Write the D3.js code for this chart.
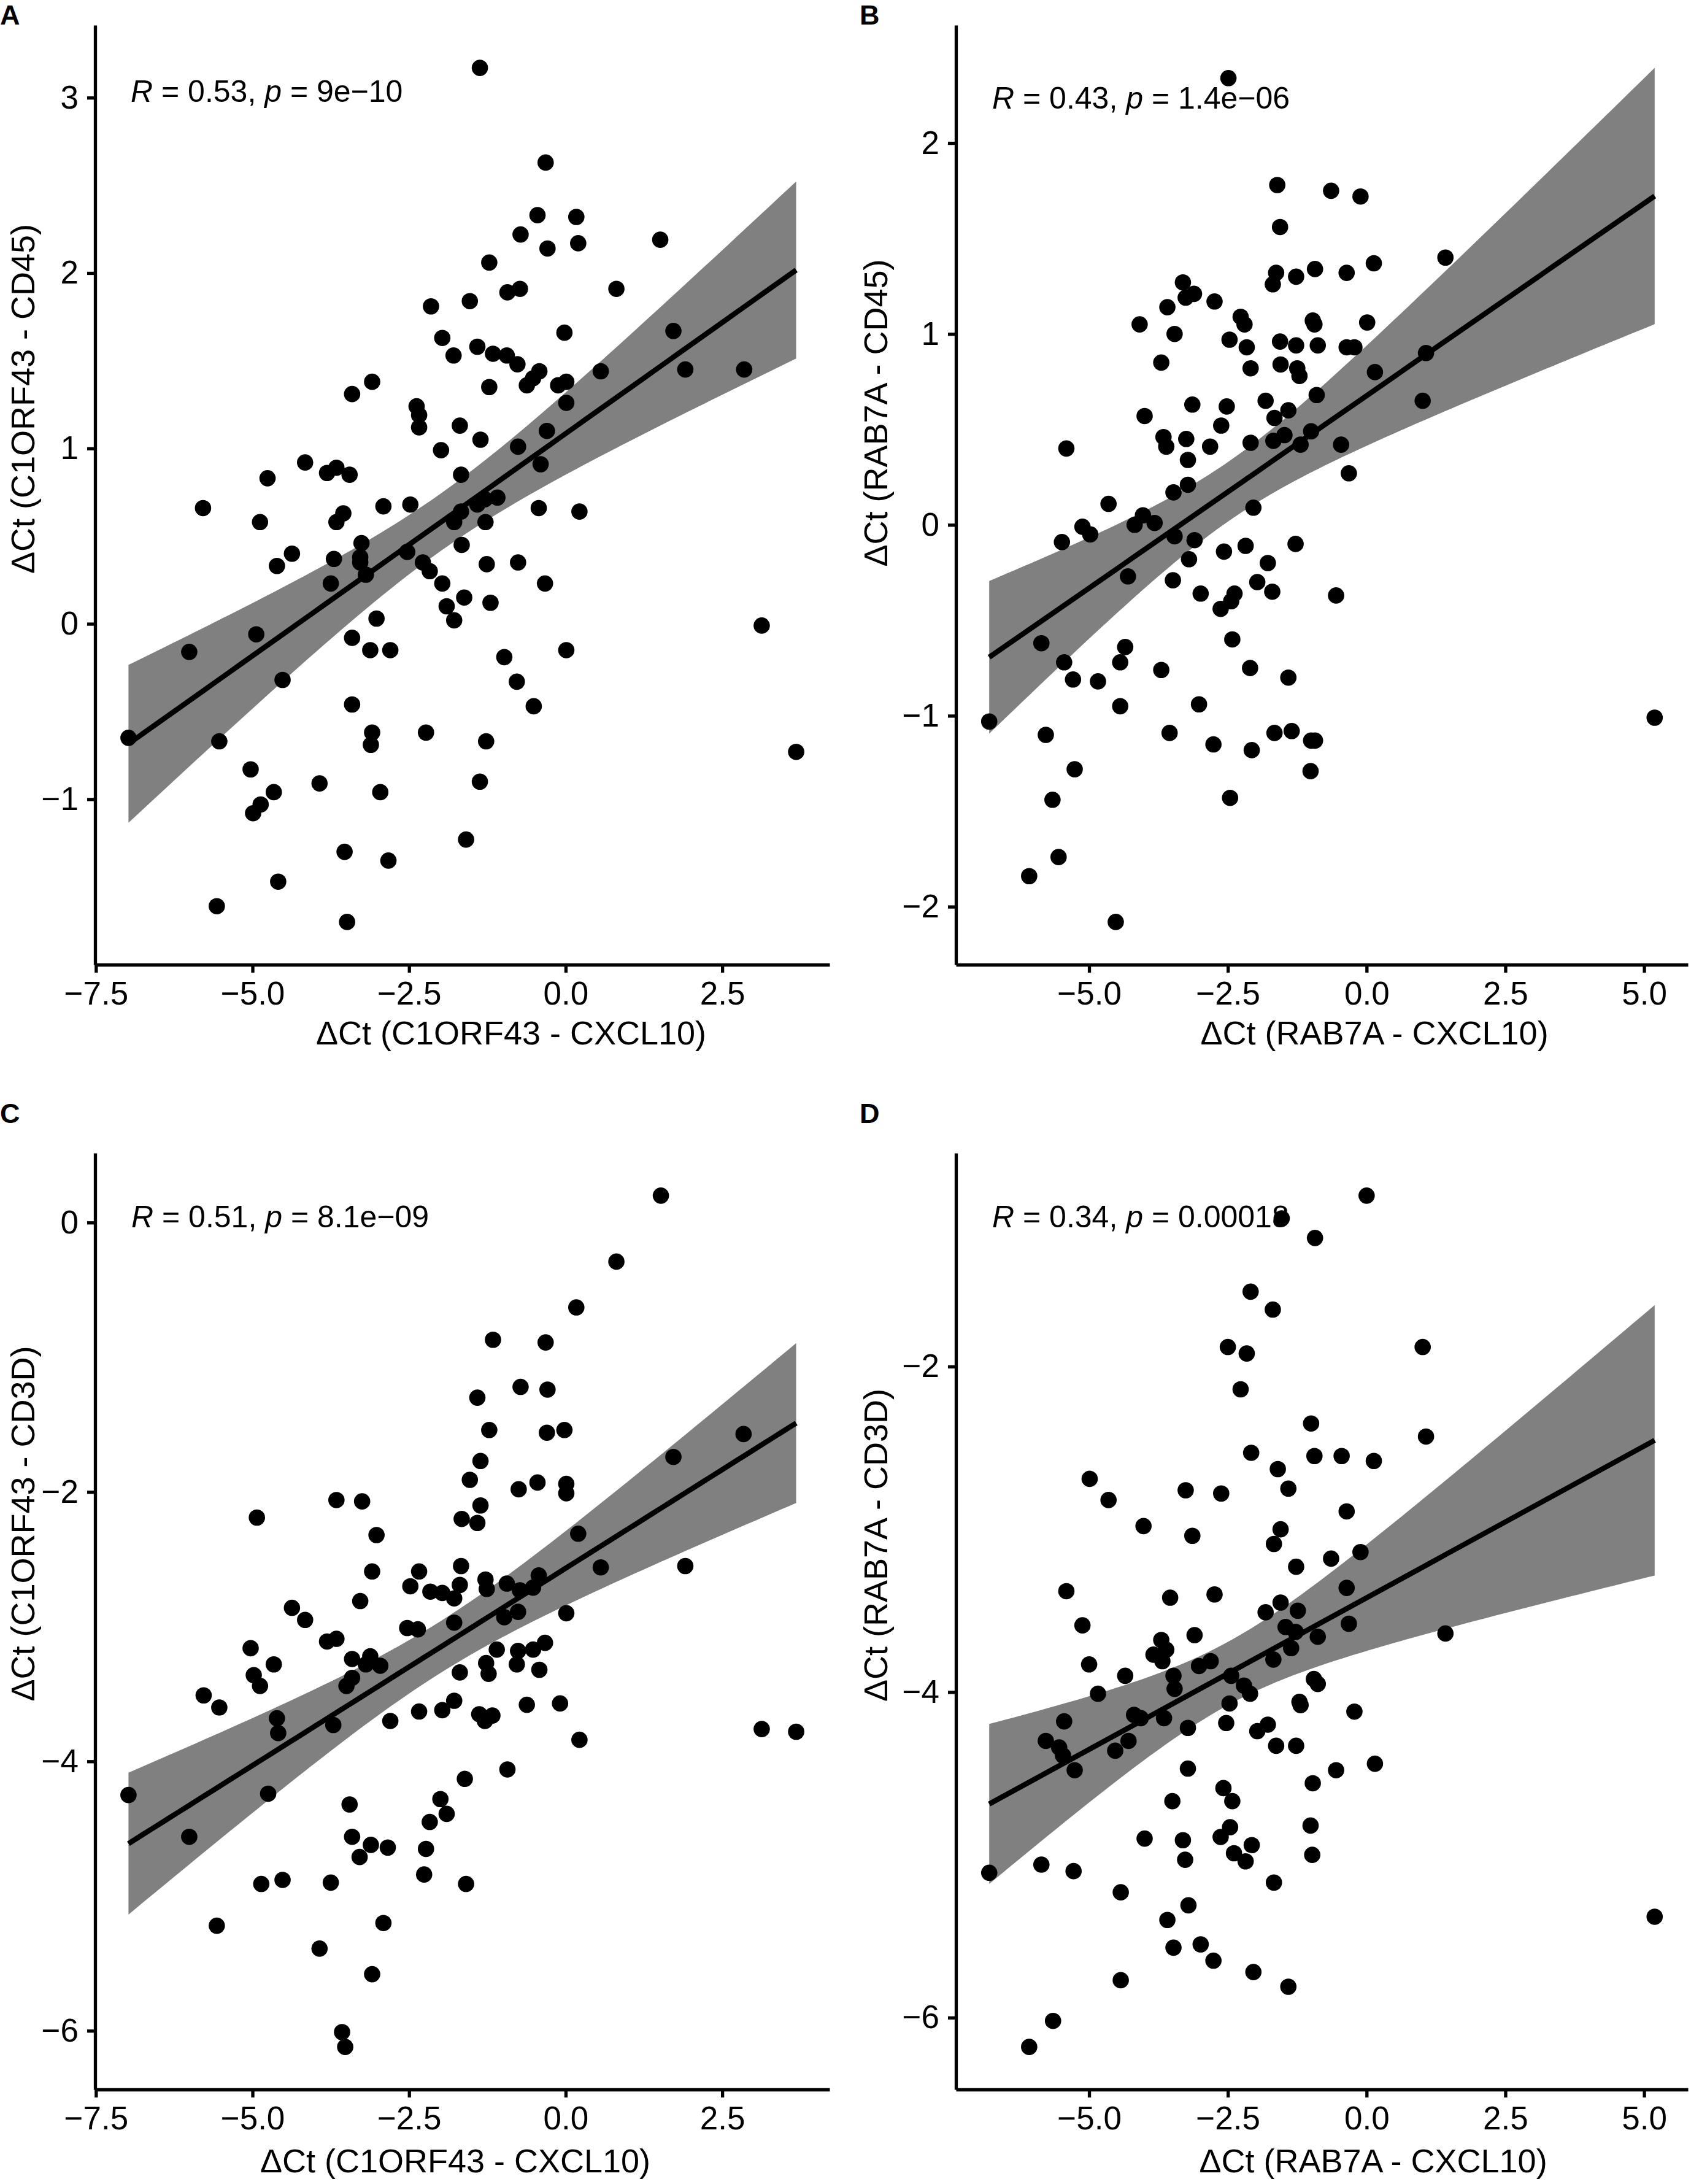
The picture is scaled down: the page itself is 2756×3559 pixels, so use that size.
<!DOCTYPE html>
<html><head><meta charset="utf-8">
<script src="https://cdn.jsdelivr.net/npm/d3@7"></script>
<style>html,body{margin:0;padding:0;background:#fff}svg{display:block}</style>
</head><body>
<svg id="chart" width="2756" height="3559"></svg>
<script>
// ---------- DATA ----------
const panelA_x = [-1.37,-0.32,-0.45,0.17,-0.72,-0.29,0.20,1.51,-1.22,-0.93,-0.73,0.81,-2.15,-1.53,-0.02,-1.97,1.72,-1.41,-1.16,-1.79,-0.94,-0.77,1.91,2.85,0.56,-0.42,-0.52,-0.62,-0.12,0.01,-3.09,-1.22,-3.41,0.01,-2.38,-2.34,-2.34,-1.69,-0.30,-1.36,-1.99,-0.76,-4.16,-0.40,-3.81,-3.66,-3.45,-4.76,-1.67,-5.79,-2.91,-2.48,-1.09,-1.29,-1.41,-0.43,0.22,-3.55,-4.88,-3.66,-1.67,-1.78,-1.28,-3.26,-1.66,-4.37,-2.53,-3.70,-3.28,-3.28,-4.61,-2.28,-2.17,-1.26,-0.76,-3.19,-3.75,-1.97,-0.33,-1.62,-1.20,-1.90,-1.78,-3.02,3.13,-4.94,-6.01,-3.41,-3.12,-2.80,-0.98,0.01,-4.52,-0.78,-0.51,-3.41,-6.98,-5.53,-3.09,-3.11,-2.23,-1.27,3.68,-5.03,-3.93,-1.37,-4.66,-2.96,-4.87,-4.99,-1.59,-3.53,-2.83,-4.59,-5.57,-3.49];
const panelA_y = [3.17,2.63,2.33,2.32,2.22,2.14,2.17,2.19,2.06,1.89,1.91,1.91,1.81,1.84,1.66,1.63,1.67,1.58,1.54,1.53,1.53,1.48,1.45,1.45,1.44,1.44,1.40,1.36,1.36,1.38,1.38,1.35,1.31,1.26,1.24,1.19,1.12,1.13,1.10,1.05,0.99,1.01,0.92,0.91,0.86,0.89,0.85,0.83,0.85,0.66,0.67,0.68,0.72,0.71,0.68,0.66,0.64,0.63,0.58,0.58,0.64,0.58,0.58,0.46,0.45,0.40,0.41,0.37,0.38,0.35,0.33,0.35,0.30,0.34,0.35,0.28,0.23,0.23,0.23,0.15,0.12,0.10,0.02,0.03,-0.01,-0.06,-0.16,-0.08,-0.15,-0.15,-0.19,-0.15,-0.32,-0.33,-0.47,-0.46,-0.65,-0.67,-0.62,-0.69,-0.62,-0.67,-0.73,-0.83,-0.91,-0.90,-0.96,-0.96,-1.03,-1.08,-1.23,-1.30,-1.35,-1.47,-1.61,-1.70];

const panelB_x = [-2.49,-1.61,-0.64,-0.11,-1.56,1.42,-1.63,-0.93,-0.36,0.13,-1.27,-1.69,-3.31,-3.26,-3.11,-3.59,-2.74,-2.27,-2.20,-4.09,-0.97,-0.94,0.01,-3.46,-2.47,-1.56,-2.16,-1.27,-0.88,-0.36,-0.22,1.07,-3.70,-2.09,-1.55,-1.25,-1.21,0.15,-0.90,-3.14,-2.52,-1.82,1.01,-1.41,-4.00,-1.66,-2.62,-3.66,-3.25,-1.68,-1.48,-1.00,-5.41,-3.61,-2.82,-2.09,-1.19,-0.46,-3.22,-0.32,-3.22,-3.48,-4.65,-2.04,-4.03,-3.82,-4.18,-5.12,-4.98,-3.46,-3.10,-5.49,-1.28,-2.18,-2.57,-3.20,-1.78,-4.30,-3.49,-1.97,-2.99,-2.38,-1.70,-0.55,-2.44,-2.63,-2.42,-5.86,-4.35,-5.45,-4.44,-2.10,-3.70,-5.29,-1.41,-4.84,-3.02,-4.44,5.19,-6.80,-5.78,-3.55,-1.66,-1.35,-0.93,-1.00,-2.76,-2.07,-5.26,-1.01,-5.66,-2.46,-5.55,-6.08,-4.52];
const panelB_y = [2.34,1.78,1.75,1.72,1.56,1.40,1.32,1.34,1.32,1.37,1.30,1.26,1.27,1.19,1.21,1.14,1.17,1.09,1.05,1.05,1.07,1.05,1.06,1.00,0.97,0.96,0.93,0.94,0.94,0.93,0.93,0.90,0.85,0.82,0.84,0.82,0.78,0.80,0.68,0.63,0.62,0.65,0.65,0.60,0.57,0.56,0.52,0.46,0.45,0.44,0.47,0.49,0.40,0.41,0.41,0.43,0.42,0.42,0.34,0.27,0.21,0.17,0.11,0.09,0.05,0.01,0.00,-0.01,-0.05,-0.06,-0.08,-0.09,-0.10,-0.11,-0.14,-0.18,-0.20,-0.27,-0.29,-0.30,-0.36,-0.36,-0.35,-0.37,-0.40,-0.44,-0.60,-0.62,-0.64,-0.72,-0.72,-0.75,-0.76,-0.81,-0.80,-0.82,-0.94,-0.95,-1.01,-1.03,-1.10,-1.09,-1.09,-1.08,-1.13,-1.13,-1.15,-1.18,-1.28,-1.29,-1.44,-1.43,-1.74,-1.84,-2.08];

const panelC_x = [1.52,0.81,0.17,-1.16,-0.32,-0.72,-0.29,-1.41,-1.22,-0.30,-0.02,2.84,-1.36,1.72,-1.53,-0.45,0.01,0.01,-0.75,-3.66,-3.25,-1.36,-4.93,-1.66,-1.41,0.20,-3.02,1.91,0.56,-1.67,-3.09,-2.34,-0.43,-1.28,-2.48,-1.69,-0.94,-0.52,-2.16,-1.97,-1.26,-0.73,-1.78,-3.28,-4.37,-0.76,0.01,-0.98,-4.16,-1.78,-2.53,-2.36,-3.81,-3.66,-5.03,-1.10,-0.76,-0.52,-0.33,-3.41,-3.12,-3.19,-2.96,-4.66,-1.27,-0.78,-0.42,-1.69,-1.23,-4.98,-3.41,-4.88,-3.50,-5.78,-5.53,-1.78,-0.62,-0.09,-2.34,-1.97,-1.38,-1.17,-1.29,-4.61,-2.80,-3.71,-4.59,3.13,3.68,0.22,-0.93,-6.98,-4.75,-1.61,-2.00,-3.45,-1.90,-2.17,-6.01,-3.41,-3.11,-2.84,-2.23,-3.29,-2.26,-4.52,-4.86,-3.75,-1.59,-5.57,-2.91,-3.93,-3.09,-3.57,-3.52];
const panelC_y = [0.20,-0.29,-0.63,-0.87,-0.89,-1.22,-1.24,-1.30,-1.54,-1.56,-1.54,-1.57,-1.77,-1.74,-1.91,-1.93,-1.94,-2.01,-1.98,-2.06,-2.07,-2.10,-2.19,-2.20,-2.23,-2.31,-2.32,-2.55,-2.56,-2.55,-2.59,-2.59,-2.62,-2.65,-2.70,-2.69,-2.68,-2.71,-2.74,-2.75,-2.72,-2.73,-2.79,-2.81,-2.86,-2.89,-2.90,-2.93,-2.95,-2.97,-3.01,-3.02,-3.11,-3.09,-3.16,-3.17,-3.18,-3.17,-3.12,-3.24,-3.22,-3.28,-3.29,-3.28,-3.27,-3.28,-3.32,-3.34,-3.35,-3.36,-3.38,-3.44,-3.44,-3.51,-3.60,-3.55,-3.58,-3.57,-3.63,-3.62,-3.65,-3.66,-3.70,-3.68,-3.70,-3.73,-3.79,-3.76,-3.78,-3.84,-4.06,-4.25,-4.24,-4.13,-4.28,-4.32,-4.39,-4.45,-4.56,-4.56,-4.62,-4.64,-4.65,-4.71,-4.84,-4.88,-4.91,-4.90,-4.91,-5.22,-5.20,-5.39,-5.58,-6.01,-6.12];

const panelD_x = [0.00,-1.53,-0.93,-2.09,-1.69,-2.50,-2.16,1.01,-2.27,-1.00,1.07,-2.08,-0.94,-0.45,0.13,-1.60,-4.99,-1.41,-3.26,-2.62,-4.65,-0.36,-4.02,-3.14,-1.55,-1.67,-0.11,-0.64,-1.27,-5.41,-3.54,-2.74,-0.36,-1.55,-1.82,-1.24,-5.12,-0.32,-1.46,-1.28,-3.10,-0.88,1.42,-3.70,-3.61,-3.84,-3.68,-1.36,-3.02,-2.81,-1.68,-5.00,-4.35,-3.48,-2.44,-0.95,-0.88,-3.46,-2.21,-2.10,-4.84,-1.21,-1.19,-2.47,-0.22,-4.19,-4.07,-3.65,-5.45,-2.53,-3.22,-1.78,-1.97,-5.78,-5.54,-4.29,-1.63,-1.27,-5.47,-4.53,-5.26,-3.22,-0.55,0.15,-0.97,-2.58,-3.50,-2.42,-1.01,-2.46,-2.63,-4.00,-3.31,-2.07,-2.39,-3.27,-2.18,-0.98,-5.86,-5.28,-6.80,-1.67,-4.43,-3.21,5.19,-3.59,-3.48,-2.99,-2.76,-2.04,-1.41,-4.43,-5.65,-6.08];
const panelD_y = [-0.95,-1.09,-1.21,-1.54,-1.65,-1.88,-1.92,-1.88,-2.14,-2.35,-2.43,-2.53,-2.55,-2.55,-2.58,-2.63,-2.69,-2.75,-2.76,-2.78,-2.82,-2.89,-2.98,-3.04,-3.00,-3.09,-3.14,-3.18,-3.23,-3.38,-3.42,-3.40,-3.36,-3.45,-3.51,-3.50,-3.59,-3.58,-3.60,-3.63,-3.65,-3.66,-3.64,-3.68,-3.74,-3.77,-3.81,-3.73,-3.84,-3.81,-3.80,-3.83,-3.90,-3.90,-3.90,-3.92,-3.95,-3.98,-3.96,-4.01,-4.01,-4.06,-4.08,-4.07,-4.12,-4.14,-4.16,-4.16,-4.18,-4.19,-4.22,-4.20,-4.24,-4.30,-4.34,-4.30,-4.33,-4.33,-4.39,-4.36,-4.48,-4.47,-4.48,-4.44,-4.56,-4.59,-4.67,-4.67,-4.82,-4.83,-4.89,-4.90,-4.91,-4.94,-4.99,-5.03,-5.04,-5.00,-5.06,-5.10,-5.11,-5.17,-5.23,-5.31,-5.38,-5.40,-5.57,-5.55,-5.65,-5.72,-5.81,-5.77,-6.02,-6.18];

const panelLetters = ["A", "B", "C", "D"];
const xTitles = ["ΔCt (C1ORF43 - CXCL10)", "ΔCt (RAB7A - CXCL10)", "ΔCt (C1ORF43 - CXCL10)", "ΔCt (RAB7A - CXCL10)"];
const yTitles = ["ΔCt (C1ORF43 - CD45)", "ΔCt (RAB7A - CD45)", "ΔCt (C1ORF43 - CD3D)", "ΔCt (RAB7A - CD3D)"];
const statR = ["0.53", "0.43", "0.51", "0.34"];
const statP = ["9e\u221210", "1.4e\u221206", "8.1e\u221209", "0.00018"];
const xTicksC1 = [-7.5, -5, -2.5, 0, 2.5];
const xTicksRAB = [-5, -2.5, 0, 2.5, 5];
const yTicksA = [-1, 0, 1, 2, 3];
const yTicksB = [-2, -1, 0, 1, 2];
const yTicksC = [-6, -4, -2, 0];
const yTicksD = [-6, -4, -2];

// ---------- LAYOUT ----------
const layout = [
  {x0:155, x1:1352, y0:41,   y1:1572, letter:[0,40],      xt:[833,1702],  yt:[56,650],    ann:[213,166]},
  {x0:1558,x1:2751, y0:41,   y1:1572, letter:[1401,40],   xt:[2240,1702], yt:[1446,673],  ann:[1617,177]},
  {x0:155, x1:1352, y0:1879, y1:3405, letter:[0,1830],    xt:[742,3540],  yt:[56,2483],   ann:[214,2000]},
  {x0:1558,x1:2751, y0:1879, y1:3405, letter:[1401,1830], xt:[2238,3540], yt:[1446,2518], ann:[1617,2000]}
];
const panels = [
  {xs:panelA_x, ys:panelA_y, xt:xTicksC1, yt:yTicksA},
  {xs:panelB_x, ys:panelB_y, xt:xTicksRAB, yt:yTicksB},
  {xs:panelC_x, ys:panelC_y, xt:xTicksC1, yt:yTicksC},
  {xs:panelD_x, ys:panelD_y, xt:xTicksRAB, yt:yTicksD}
];

const FONT = "'Liberation Sans', Arial, Helvetica, sans-serif";
const svg = d3.select("#chart");

function tq975(df) {
  const z = 1.959964;
  return z + (z**3 + z)/(4*df) + (5*z**5 + 16*z**3 + 3*z)/(96*df*df)
           + (3*z**7 + 19*z**5 + 17*z**3 - 15*z)/(384*df**3);
}
function lmBand(xs, ys) {
  const n = xs.length, mx = d3.mean(xs), my = d3.mean(ys);
  let sxx = 0, sxy = 0;
  for (let i = 0; i < n; i++) { sxx += (xs[i]-mx)**2; sxy += (xs[i]-mx)*(ys[i]-my); }
  const b = sxy/sxx, a = my - b*mx;
  let sse = 0;
  for (let i = 0; i < n; i++) sse += (ys[i] - a - b*xs[i])**2;
  const s = Math.sqrt(sse/(n-2)), t = tq975(n-2);
  const [lo, hi] = d3.extent(xs);
  return d3.range(80).map(i => {
    const x = lo + i*(hi-lo)/79, fit = a + b*x;
    const se = s*Math.sqrt(1/n + (x-mx)**2/sxx);
    return {x, fit, lo: fit - t*se, hi: fit + t*se};
  });
}
function expand(ext) { const d = (ext[1]-ext[0])*0.05; return [ext[0]-d, ext[1]+d]; }

panels.forEach((p, k) => {
  const L = layout[k];
  const band = lmBand(p.xs, p.ys);
  const xDom = expand(d3.extent(p.xs));
  const yDom = expand(d3.extent(p.ys.concat(band.map(d => d.lo), band.map(d => d.hi))));
  const x = d3.scaleLinear().domain(xDom).range([L.x0, L.x1]);
  const y = d3.scaleLinear().domain(yDom).range([L.y1, L.y0]);
  const g = svg.append("g");

  g.append("path").datum(band)
    .attr("d", d3.area().x(d => x(d.x)).y0(d => y(d.lo)).y1(d => y(d.hi)))
    .attr("fill", "#808080");

  g.append("g").selectAll("circle").data(p.xs.map((v, i) => [v, p.ys[i]])).join("circle")
    .attr("cx", d => x(d[0])).attr("cy", d => y(d[1])).attr("r", 13.3).attr("fill", "#000");

  g.append("path").datum(band)
    .attr("d", d3.line().x(d => x(d.x)).y(d => y(d.fit)))
    .attr("fill", "none").attr("stroke", "#000").attr("stroke-width", 8.5);

  const xa = g.append("g").attr("transform", `translate(0,${L.y1})`)
    .call(d3.axisBottom(x).tickValues(p.xt).tickFormat(d3.format(".1f")).tickSize(13).tickSizeOuter(0).tickPadding(14));
  const ya = g.append("g").attr("transform", `translate(${L.x0},0)`)
    .call(d3.axisLeft(y).tickValues(p.yt).tickFormat(d3.format("d")).tickSize(13).tickSizeOuter(0).tickPadding(14));
  [xa, ya].forEach(a => {
    a.attr("font-family", FONT).attr("font-size", 53);
    a.select(".domain").attr("stroke", "#000").attr("stroke-width", 5.3);
    a.selectAll(".tick line").attr("stroke", "#000").attr("stroke-width", 5.3);
    a.selectAll(".tick text").attr("fill", "#000");
  });

  svg.append("text").attr("x", L.xt[0]).attr("y", L.xt[1]).attr("text-anchor", "middle")
    .attr("font-family", FONT).attr("font-size", 54).text(xTitles[k]);
  svg.append("text").attr("transform", `translate(${L.yt[0]},${L.yt[1]}) rotate(-90)`)
    .attr("text-anchor", "middle").attr("font-family", FONT).attr("font-size", 54).text(yTitles[k]);

  const ann = svg.append("text").attr("x", L.ann[0]).attr("y", L.ann[1])
    .attr("font-family", FONT).attr("font-size", 50).attr("xml:space", "preserve");
  ann.append("tspan").attr("font-style", "italic").text("R");
  ann.append("tspan").text(" = " + statR[k] + ", ");
  ann.append("tspan").attr("font-style", "italic").text("p");
  ann.append("tspan").text(" = " + statP[k]);

  svg.append("text").attr("x", L.letter[0]).attr("y", L.letter[1])
    .attr("font-family", FONT).attr("font-size", 45).attr("font-weight", "bold").text(panelLetters[k]);
});
</script>
</body></html>
